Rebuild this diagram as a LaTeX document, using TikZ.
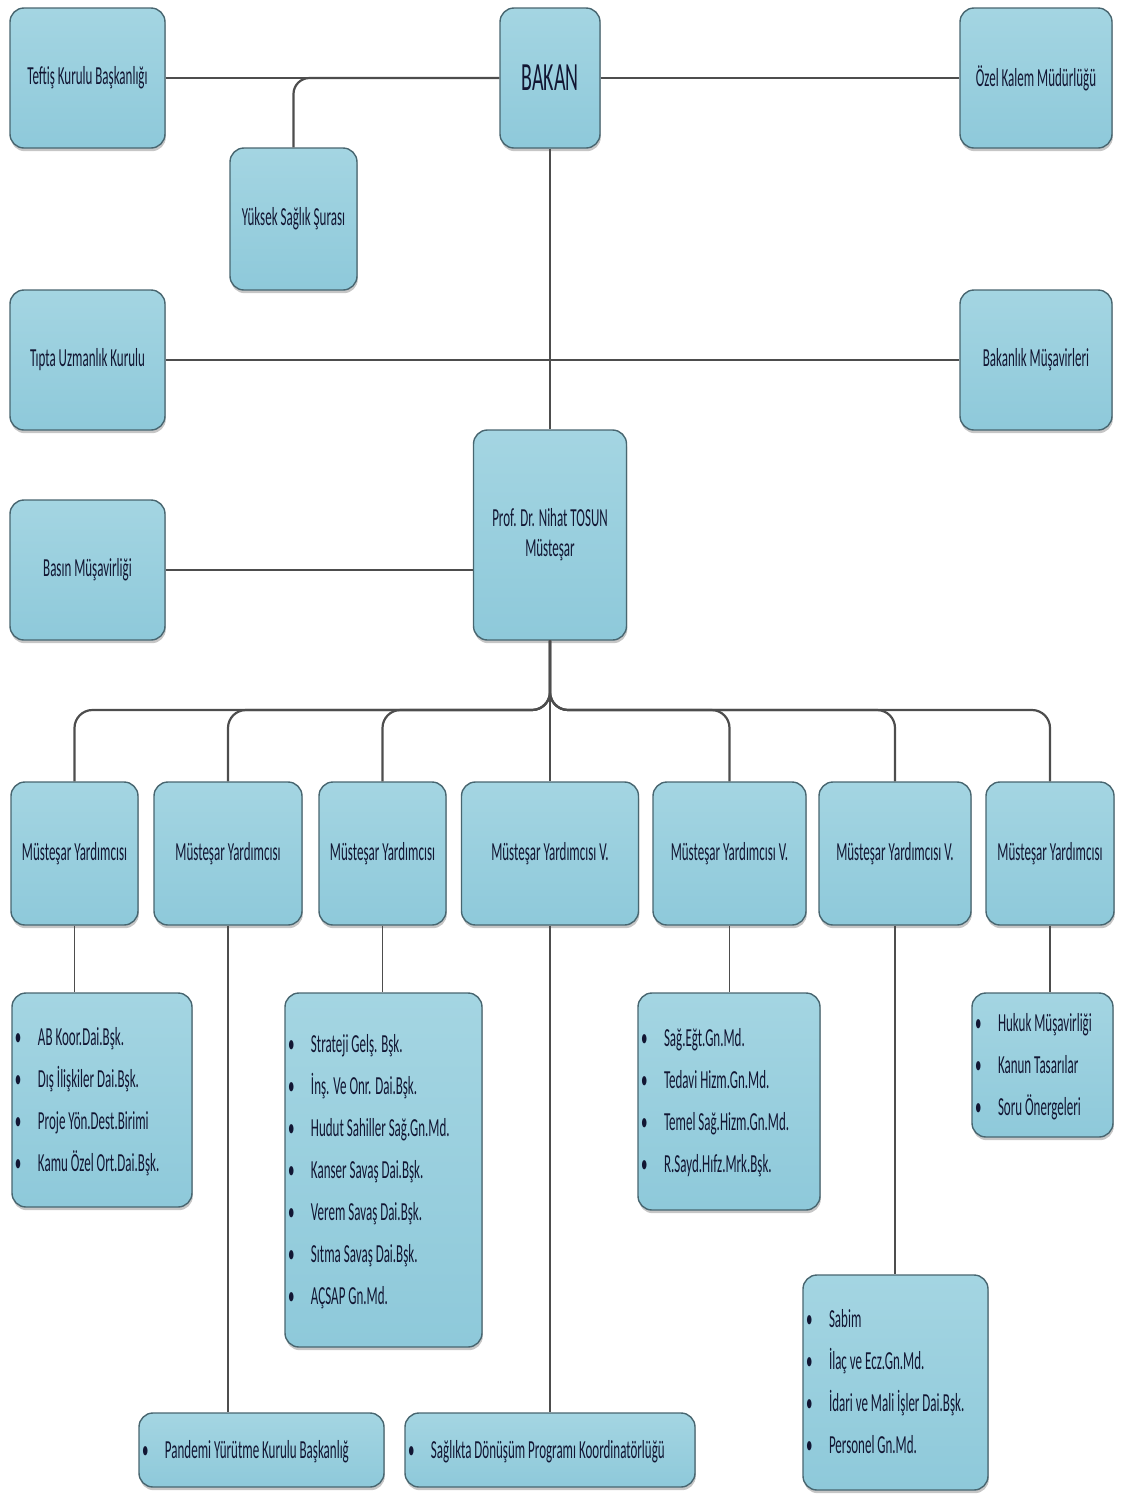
\documentclass[tikz,border=0pt]{standalone}
\usepackage{fontspec}
\setmainfont{Carlito}[FakeStretch=0.5]
\usetikzlibrary{shadows}
\definecolor{boxfill}{HTML}{8EC9DA}
\definecolor{boxtop}{HTML}{A4D5E2}
\definecolor{boxline}{HTML}{486670}
\definecolor{txt}{HTML}{121633}
\definecolor{conn}{HTML}{4D4D4D}
\newcommand\labelfont{\fontsize{13}{15}\selectfont}
\newcommand\listfont{\fontsize{13}{21}\selectfont}
\newcommand\itm[1]{\makebox[11.5pt][l]{\textbullet}#1}
\tikzset{
  orgbox/.style={draw=boxline, line width=0.7pt, rounded corners=7pt,
    top color=boxtop, bottom color=boxfill, text=txt, align=center,
    inner sep=2pt,
    drop shadow={shadow xshift=0.4pt, shadow yshift=-1.6pt, opacity=0.45}},
  conn/.style={draw=conn, line width=1.1pt},
  connv/.style={draw=conn, line width=0.6pt}
}
% \obox{name}{cx}{cy}{w}{h}{text}
\newcommand\obox[6]{\node[orgbox, font=\labelfont, minimum width={(#4)*0.5pt}, minimum height={(#5)*0.5pt}] (#1) at (#2,#3) {#6};}
% \lbox{name}{cx}{cy}{w}{h}{rows}
\newcommand\lbox[6]{\node[orgbox, font=\listfont, inner xsep=1.5pt, minimum height={(#5)*0.5pt}] (#1) at (#2,#3) {\makebox[\dimexpr #4pt/2-3pt\relax][l]{\begin{tabular}{@{}l@{}}#6\end{tabular}}};}
\begin{document}
\begin{tikzpicture}[x=0.5pt, y=-0.5pt]
\useasboundingbox (0,0) rectangle (1120,1495);
% top level
\obox{teftis}{87.5}{78}{155}{140}{Teftiş Kurulu Başkanlığı}
\node[orgbox, font=\fontsize{20}{22}\selectfont, minimum width=50pt, minimum height=70pt] (bakan) at (550,78) {BAKAN};
\obox{ozel}{1036}{78}{152}{140}{Özel Kalem Müdürlüğü}
\obox{yuksek}{293.5}{219}{127}{142}{Yüksek Sağlık Şurası}
\obox{tipta}{87.5}{360}{155}{140}{Tıpta Uzmanlık Kurulu}
\obox{bakmus}{1036}{360}{152}{140}{Bakanlık Müşavirleri}
\obox{tosun}{550}{535}{153}{210}{Prof. Dr. Nihat TOSUN\\Müsteşar}
\obox{basin}{87.5}{570}{155}{140}{Basın Müşavirliği}
% deputies
\obox{my1}{74.5}{853.5}{127}{143}{Müsteşar Yardımcısı}
\obox{my2}{228}{853.5}{148}{143}{Müsteşar Yardımcısı}
\obox{my3}{382.5}{853.5}{127}{143}{Müsteşar Yardımcısı}
\obox{my4}{550}{853.5}{177}{143}{Müsteşar Yardımcısı V.}
\obox{my5}{729.5}{853.5}{153}{143}{Müsteşar Yardımcısı V.}
\obox{my6}{895}{853.5}{152}{143}{Müsteşar Yardımcısı V.}
\obox{my7}{1050}{853.5}{128}{143}{Müsteşar Yardımcısı}
% lists
\lbox{ab}{102}{1100}{180}{214}{\itm{AB Koor.Dai.Bşk.}\\\itm{Dış İlişkiler Dai.Bşk.}\\\itm{Proje Yön.Dest.Birimi}\\\itm{Kamu Özel Ort.Dai.Bşk.}}
\lbox{strateji}{383.5}{1170}{197}{354}{\itm{Strateji Gelş. Bşk.}\\\itm{İnş. Ve Onr. Dai.Bşk.}\\\itm{Hudut Sahiller Sağ.Gn.Md.}\\\itm{Kanser Savaş Dai.Bşk.}\\\itm{Verem Savaş Dai.Bşk.}\\\itm{Sıtma Savaş Dai.Bşk.}\\\itm{AÇSAP Gn.Md.}}
\lbox{sagegt}{729}{1101.5}{182}{217}{\itm{Sağ.Eğt.Gn.Md.}\\\itm{Tedavi Hizm.Gn.Md.}\\\itm{Temel Sağ.Hizm.Gn.Md.}\\\itm{R.Sayd.Hıfz.Mrk.Bşk.}}
\lbox{hukuk}{1042.5}{1065}{141}{144}{\itm{Hukuk Müşavirliği}\\\itm{Kanun Tasarılar}\\\itm{Soru Önergeleri}}
\lbox{sabim}{895.5}{1382.5}{185}{215}{\itm{Sabim}\\\itm{İlaç ve Ecz.Gn.Md.}\\\itm{İdari ve Mali İşler Dai.Bşk.}\\\itm{Personel Gn.Md.}}
\lbox{pandemi}{261.5}{1450}{245}{74}{\itm{Pandemi Yürütme Kurulu Başkanlığ}}
\lbox{saglikta}{550}{1450}{290}{74}{\itm{Sağlıkta Dönüşüm Programı Koordinatörlüğü}}
% connectors
\draw[conn] (teftis.east) -- (bakan.west);
\draw[conn, rounded corners=8pt] (yuksek.north) |- (bakan.west);
\draw[conn] (bakan.east) -- (ozel.west);
\draw[conn] (tipta.east) -- (bakmus.west);
\draw[connv] (bakan.south) -- (tosun.north);
\draw[conn] (basin.east) -- (basin.east -| tosun.west);
\coordinate (bus) at (550,710);
\foreach \i in {1,2,3,5,6,7}{
  \draw[conn, rounded corners=9pt] (tosun.south) -- (bus) -| (my\i.north);
}
\draw[conn] (tosun.south) -- (my4.north);
\draw[connv] (my1.south) -- (my1.south |- ab.north);
\draw[connv] (my2.south) -- (my2.south |- pandemi.north);
\draw[connv] (my3.south) -- (my3.south |- strateji.north);
\draw[connv] (my4.south) -- (my4.south |- saglikta.north);
\draw[connv] (my5.south) -- (my5.south |- sagegt.north);
\draw[connv] (my6.south) -- (my6.south |- sabim.north);
\draw[connv] (my7.south) -- (my7.south |- hukuk.north);
\end{tikzpicture}
\end{document}
